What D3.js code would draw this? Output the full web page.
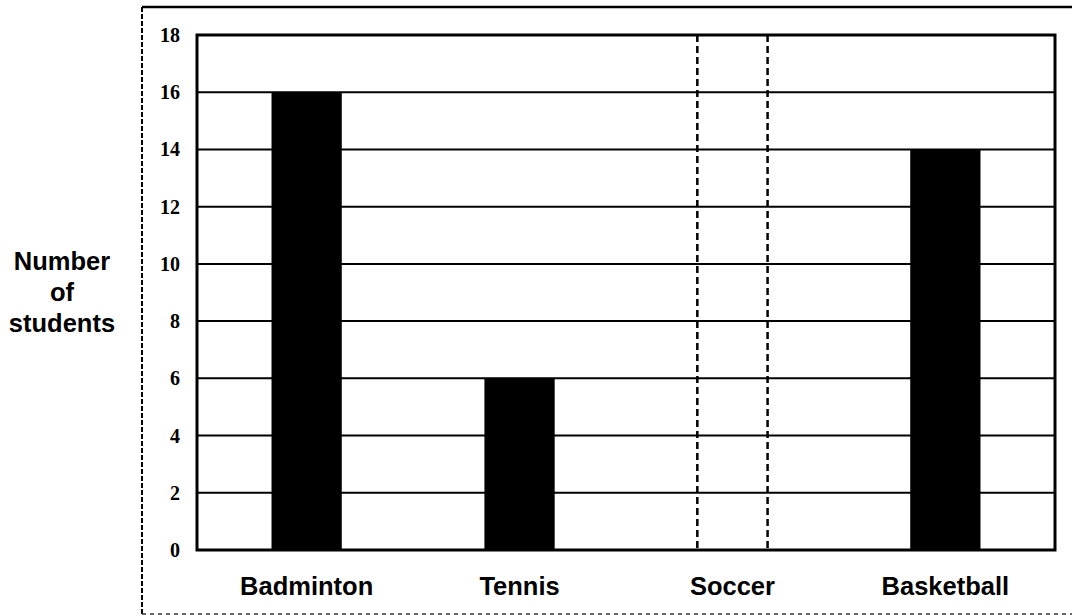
<!DOCTYPE html>
<html>
<head>
<meta charset="utf-8">
<script src="https://cdn.jsdelivr.net/npm/d3@7"></script>
<style>
  body { margin: 0; background: #fff; }
  svg { display: block; }
</style>
</head>
<body>
<div id="chart"></div>
<script>
// chart data
const sports = ['Badminton', 'Tennis', 'Soccer', 'Basketball'];
const students = [16, 6, null, 14];   // Soccer bar is left blank (dashed outline)
const yTicks = [0, 2, 4, 6, 8, 10, 12, 14, 16, 18];
const yTitle = ['Number', 'of', 'students'];

const width = 1072,
  height = 616,
  plotLeft = 197, plotRight = 1055, plotTop = 35, plotBottom = 550;

const svg = d3.select('#chart').append('svg')
  .attr('width', width)
  .attr('height', height);

const x = d3.scaleBand()
  .domain(sports)
  .range([plotLeft, plotRight])
  .paddingInner(0.67)
  .paddingOuter(0.35);

const y = d3.scaleLinear()
  .domain([0, 18])
  .range([plotBottom, plotTop]);

// outer frame of the worksheet
svg.append('line')
  .attr('x1', 142).attr('x2', width).attr('y1', 7).attr('y2', 7)
  .attr('stroke', '#000').attr('stroke-width', 2.5);
svg.append('line')
  .attr('x1', 142).attr('x2', 142).attr('y1', 7).attr('y2', height)
  .attr('stroke', '#000').attr('stroke-width', 2).attr('stroke-dasharray', '5,2');
svg.append('line')
  .attr('x1', 142).attr('x2', width).attr('y1', 614).attr('y2', 614)
  .attr('stroke', '#333').attr('stroke-width', 1.5).attr('stroke-dasharray', '4,4');

// horizontal grid lines
svg.append('g')
  .selectAll('line')
  .data(yTicks.filter(d => d > 0 && d < 18))
  .join('line')
  .attr('x1', plotLeft).attr('x2', plotRight)
  .attr('y1', d => y(d)).attr('y2', d => y(d))
  .attr('stroke', '#000').attr('stroke-width', 2);

// plot border
svg.append('rect')
  .attr('x', plotLeft).attr('y', plotTop)
  .attr('width', plotRight - plotLeft).attr('height', plotBottom - plotTop)
  .attr('fill', 'none').attr('stroke', '#000').attr('stroke-width', 3);

// y tick labels
svg.append('g')
  .selectAll('text')
  .data(yTicks)
  .join('text')
  .attr('x', 180)
  .attr('y', d => y(d))
  .attr('dy', '0.35em')
  .attr('text-anchor', 'end')
  .attr('font-family', 'Liberation Serif, serif')
  .attr('font-weight', 'bold')
  .attr('font-size', 20)
  .text(d => d);

// bars
svg.append('g')
  .selectAll('rect')
  .data(sports.map((s, i) => ({ s: s, v: students[i] })).filter(d => d.v != null))
  .join('rect')
  .attr('x', d => x(d.s))
  .attr('y', d => y(d.v))
  .attr('width', x.bandwidth())
  .attr('height', d => y(0) - y(d.v))
  .attr('fill', '#000');

// blank bar drawn as dashed outline
const blank = sports.filter((s, i) => students[i] == null);
svg.append('g')
  .selectAll('line')
  .data(blank.flatMap(s => [x(s), x(s) + x.bandwidth()]))
  .join('line')
  .attr('x1', d => d).attr('x2', d => d)
  .attr('y1', y(18)).attr('y2', y(0))
  .attr('stroke', '#000').attr('stroke-width', 2.5)
  .attr('stroke-dasharray', '7,4');

// category labels
svg.append('g')
  .selectAll('text')
  .data(sports)
  .join('text')
  .attr('x', d => x(d) + x.bandwidth() / 2)
  .attr('y', 595)
  .attr('text-anchor', 'middle')
  .attr('font-family', 'Liberation Sans, Arial, sans-serif')
  .attr('font-weight', 'bold')
  .attr('font-size', 25.5)
  .text(d => d);

// y axis title
svg.append('g')
  .selectAll('text')
  .data(yTitle)
  .join('text')
  .attr('x', 62)
  .attr('y', (d, i) => 270 + i * 31)
  .attr('text-anchor', 'middle')
  .attr('font-family', 'Liberation Sans, Arial, sans-serif')
  .attr('font-weight', 'bold')
  .attr('font-size', 25.5)
  .text(d => d);
</script>
</body>
</html>
